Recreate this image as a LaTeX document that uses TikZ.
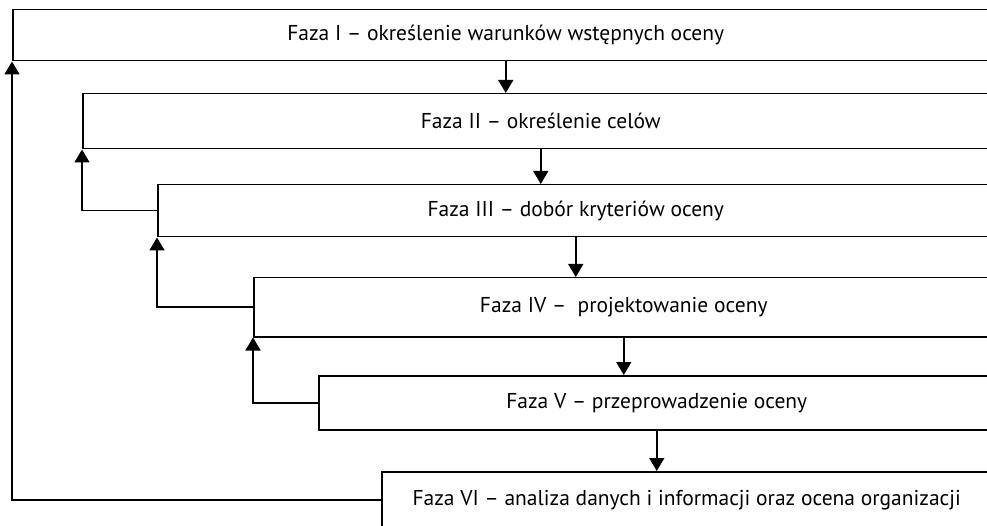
\documentclass[tikz,border=0pt]{standalone}
\usepackage{fontspec}
\setmainfont{PT Sans}
\usetikzlibrary{arrows.meta}
\begin{document}
\begin{tikzpicture}[x=1pt,y=-1pt,
  phase/.style={draw, line width=1.5pt, rectangle, anchor=north west, inner sep=0pt,
    font=\fontsize{21.5}{25}\selectfont},
  flow/.style={line width=1.5pt, -{Triangle[width=15pt,length=13pt]}}]
\useasboundingbox (0,0) rectangle (987,526);
\clip (0,0) rectangle (987,526);
\node[phase, minimum width=986, minimum height=51] (b1) at (12,9) {Faza I – określenie warunków wstępnych oceny};
\node[phase, minimum width=916, minimum height=55] (b2) at (82,93) {Faza II – określenie celów};
\node[phase, minimum width=836, minimum height=52] (b3) at (157,184) {Faza III – dobór kryteriów oceny};
\node[phase, minimum width=740, minimum height=59] (b4) at (253,277) {Faza IV – \ projektowanie oceny};
\node[phase, minimum width=676, minimum height=54] (b5) at (318,375) {Faza V – przeprowadzenie oceny};
\node[phase, minimum width=610, minimum height=56] (b6) at (381,471) {Faza VI – analiza danych i informacji oraz ocena organizacji};
% forward steps
\draw[flow] (b1.south) -- (b2.north -| b1.south);
\draw[flow] (b2.south) -- (b3.north -| b2.south);
\draw[flow] (b3.south) -- (b4.north -| b3.south);
\draw[flow] (b4.south) -- (b5.north -| b4.south);
\draw[flow] (b5.south) -- (b6.north -| b5.south);
% feedback loops
\draw[flow] (b3.west) -| (b2.south west);
\draw[flow] (b4.west) -| (b3.south west);
\draw[flow] (b5.west) -| (b4.south west);
\draw[flow] (b6.west) -| (b1.south west);
\end{tikzpicture}
\end{document}
